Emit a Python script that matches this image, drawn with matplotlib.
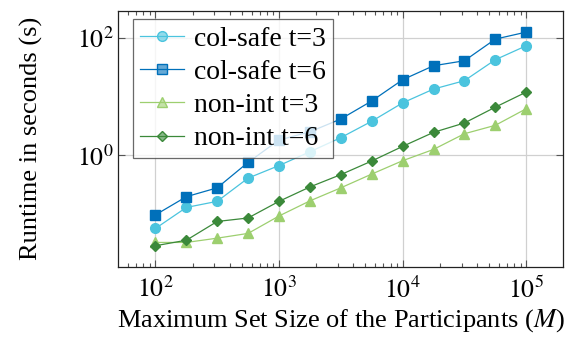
import numpy as np
import matplotlib
matplotlib.use("Agg")
from matplotlib import pyplot as plt
from matplotlib.lines import Line2D

plt.rcParams['font.family'] = ['Liberation Serif', 'DejaVu Serif']
plt.rcParams['mathtext.fontset'] = 'stix'

# set sizes M (quarter-decade steps from 10^2 to 10^5)
set_sizes = [100, 178, 316, 562, 1000, 1778, 3162, 5623, 10000, 17783, 31623, 56234, 100000]

# runtimes in seconds
col_safe_t3 = [0.057, 0.13, 0.165, 0.41, 0.67, 1.15, 2.0, 3.8, 7.8, 13.4, 18.6, 42.3, 73.0]
col_safe_t6 = [0.097, 0.198, 0.28, 0.76, 1.82, 2.51, 4.15, 8.4, 19.3, 33.4, 40.6, 94.8, 124.7]
non_int_t3 = [0.033, 0.033, 0.039, 0.047, 0.093, 0.168, 0.28, 0.48, 0.81, 1.26, 2.33, 3.24, 6.2]
non_int_t6 = [0.029, 0.036, 0.075, 0.086, 0.165, 0.29, 0.47, 0.80, 1.42, 2.46, 3.55, 6.6, 11.9]

labels = ['col-safe t=3', 'col-safe t=6', 'non-int t=3', 'non-int t=6']
colors = ['#4BC4DE', '#0070BA', '#9DCF6F', '#3B893A']
markers = ['o', 's', '^', 'D']
msizes = [7, 7, 7, 5.5]

fig = plt.figure(figsize=(5.69, 3.39), dpi=100)
ax = fig.add_axes([0.208, 0.2133, 0.782, 0.755])

series = [col_safe_t3, col_safe_t6, non_int_t3, non_int_t6]
for s, lab, c, m, ms in zip(series, labels, colors, markers, msizes):
    ax.plot(set_sizes, s, color=c, marker=m, markersize=ms, linewidth=0.9,
            markerfacecolor=c, markeredgecolor=c, label=lab)

ax.set_xscale('log')
ax.set_yscale('log')
ax.set_xlim(10**1.7, 10**5.3)
ax.set_ylim(10**-1.894, 10**2.459)

ax.set_xticks([1e2, 1e3, 1e4, 1e5])
ax.set_xticklabels(['$10^{2}$', '$10^{3}$', '$10^{4}$', '$10^{5}$'])
ax.set_yticks([1e0, 1e2])
ax.set_yticklabels(['$10^{0}$', '$10^{2}$'])
ax.yaxis.set_minor_locator(matplotlib.ticker.NullLocator())
ax.xaxis.set_minor_locator(matplotlib.ticker.LogLocator(base=10, subs=np.arange(2, 10)))
ax.xaxis.set_minor_formatter(matplotlib.ticker.NullFormatter())

ax.tick_params(which='both', direction='in', top=True, right=True, labelsize=18.5,
               color='#555555', width=0.8)
ax.tick_params(which='major', length=5)
ax.tick_params(which='minor', length=3)
ax.tick_params(axis='x', pad=7)
ax.grid(True, which='major', color='#d0d0d0', linewidth=0.9)
ax.set_axisbelow(True)
for sp in ax.spines.values():
    sp.set_linewidth(0.9)
    sp.set_color('#222222')

ax.set_xlabel('Maximum Set Size of the Participants ($M$)', fontsize=19, labelpad=3)
ax.set_ylabel('Runtime in seconds (s)', fontsize=19, labelpad=24)

handles = [Line2D([], [], color=c, marker=m, markersize=ms, linewidth=0.9,
                  markerfacecolor=matplotlib.colors.to_rgba(c, 0.6), markeredgecolor=c)
           for c, m, ms in zip(colors, markers, msizes)]
leg = ax.legend(handles, labels, loc='upper left', bbox_to_anchor=(0.033, 0.967),
                borderaxespad=0, fontsize=20, frameon=True, fancybox=False,
                edgecolor='#444444', framealpha=0.8, handlelength=1.6,
                labelspacing=0.28, borderpad=0.25, handletextpad=0.35)
leg.get_frame().set_linewidth(0.9)

plt.savefig('out.png', dpi=100)
